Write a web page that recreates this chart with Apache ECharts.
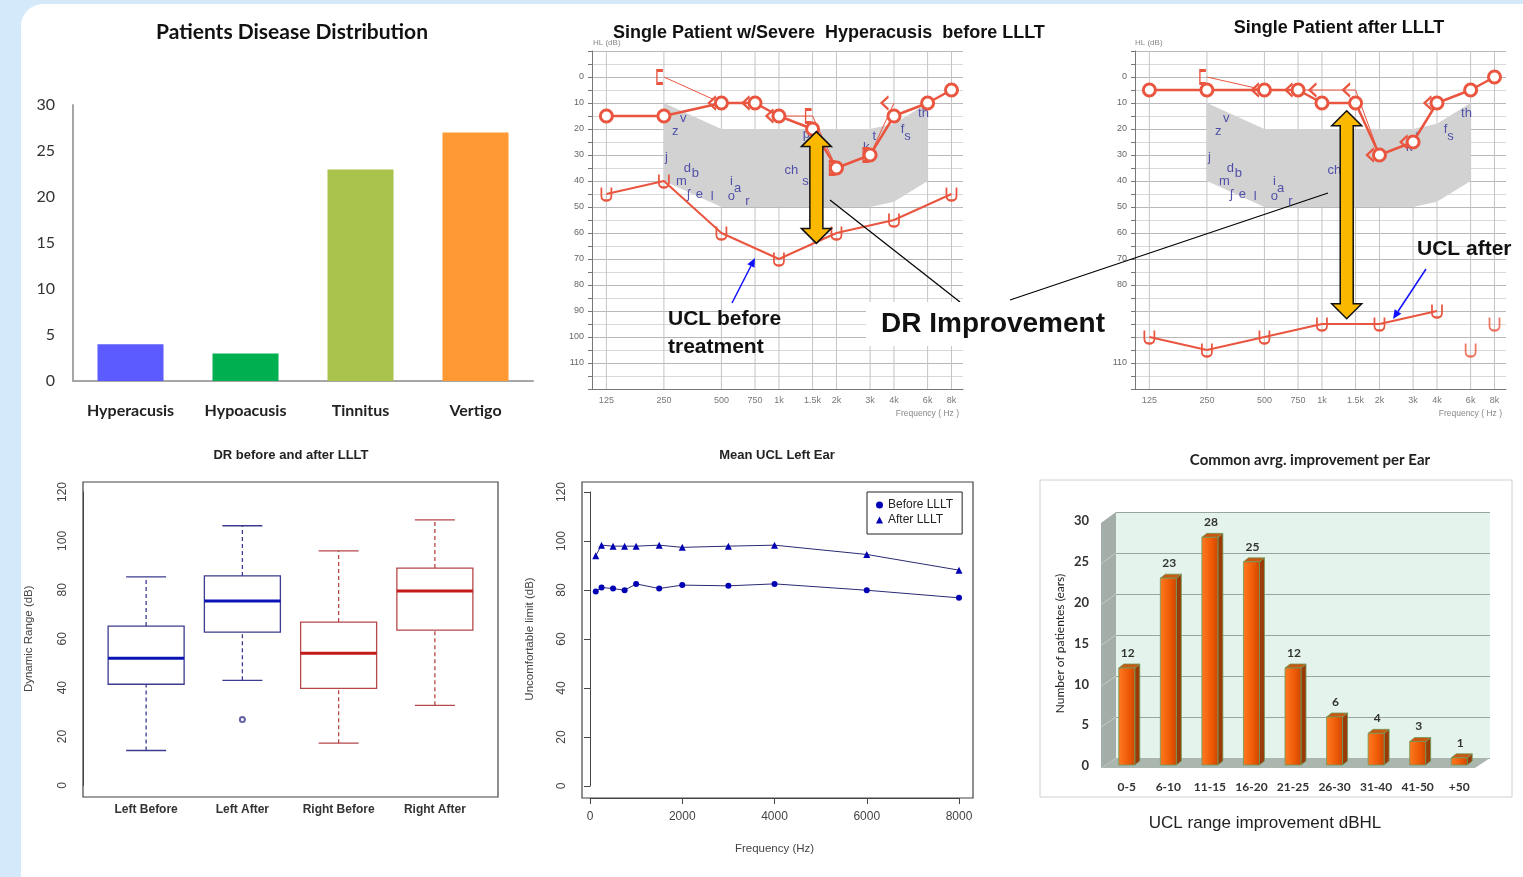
<!DOCTYPE html>
<html>
<head>
<meta charset="utf-8">
<script src="https://cdn.jsdelivr.net/npm/echarts@6.0.0/dist/echarts.min.js"></script>
<style>
  html,body{margin:0;padding:0;width:1523px;height:877px;overflow:hidden;background:#d4e9f9;}
  #panel{position:absolute;left:21px;top:4px;right:0;bottom:0;background:#fff;border-top-left-radius:22px;}
  #chart{position:absolute;left:0;top:0;width:1523px;height:877px;}
</style>
</head>
<body>
<div id="panel"></div>
<div id="chart"></div>
<script>
// ---------------- DATA ----------------
const diseaseCategories = ['Hyperacusis', 'Hypoacusis', 'Tinnitus', 'Vertigo'];
const diseaseCounts = [4, 3, 23, 27];
const diseaseColors = ['#5b5bff', '#00b050', '#a9c34c', '#ff9933'];

const audioFreqs = [125, 250, 500, 750, 1000, 1500, 2000, 3000, 4000, 6000, 8000];
const audioFreqLabels = ['125', '250', '500', '750', '1k', '1.5k', '2k', '3k', '4k', '6k', '8k'];

const beforeAir = [15, 15, 10, 10, 15, 20, 35, 30, 15, 10, 5];
const beforeBone = [[250, 0, '['], [500, 10, '<'], [750, 10, '<'], [1000, 15, '<'], [1500, 15, '['], [2000, 35, '['], [3000, 30, '['], [4000, 10, '<']];
const beforeUCL = [[125, 45], [250, 40], [500, 60], [1000, 70], [2000, 60], [4000, 55], [8000, 45]];

const afterAir = [5, 5, 5, 5, 10, 10, 30, 25, 10, 5, 0];
const afterBone = [[250, 0, '['], [500, 5, '<'], [750, 5, '<'], [1000, 5, '<'], [1500, 5, '<'], [2000, 30, '<'], [3000, 25, '<'], [4000, 10, '<']];
const afterUCL = [[125, 100], [250, 105], [500, 100], [1000, 95], [2000, 95], [4000, 90]];
const afterUCLSingle = [[6000, 105], [8000, 95]];

const speechBanana = [[250, 10], [500, 20], [3000, 20], [4000, 18], [6000, 10], [6000, 40], [4000, 48], [3000, 50], [500, 50], [250, 40]];
const speechSounds = [['v', 316, 16], ['z', 287, 21], ['j', 258, 31], ['d', 332, 35], ['b', 365, 37], ['m', 309, 40],
  ['ʃ', 336, 45], ['e', 383, 45], ['l', 448, 46], ['i', 564, 40], ['a', 607, 43], ['o', 564, 46], ['r', 684, 48],
  ['ch', 1163, 36], ['s', 1376, 40], ['p', 1393, 22], ['k', 2866, 27], ['t', 3160, 23], ['f', 4433, 20], ['s', 4710, 23], ['th', 5709, 14]];
const beforeArrow = [1570, 21, 64];
const afterArrow = [1348, 13, 93];

const boxCategories = ['Left Before', 'Left After', 'Right Before', 'Right After'];
const boxStats = [[14.3, 41.4, 52, 65.2, 85.3], [43, 62.7, 75.4, 85.7, 106.2], [17.3, 39.7, 54.1, 66.8, 95.9], [32.8, 63.5, 79.5, 88.9, 108.6]];
const boxOutliers = [[1, 27]];

const uclFreqs = [125, 250, 500, 750, 1000, 1500, 2000, 3000, 4000, 6000, 8000];
const uclBefore = [79.4, 81.0, 80.6, 79.9, 82.5, 80.6, 82.0, 81.7, 82.5, 79.9, 76.8];
const uclAfter = [94.0, 98.3, 97.9, 97.9, 97.9, 98.3, 97.4, 97.9, 98.3, 94.5, 88.1];

const improveCategories = ['0-5', '6-10', '11-15', '16-20', '21-25', '26-30', '31-40', '41-50', '+50'];
const improveCounts = [12, 23, 28, 25, 12, 6, 4, 3, 1];

// ---------------- HELPERS ----------------
const RED = '#e9553f';
const oct = f => Math.log2(f / 125);
const SYM_U = 'path://M0,0 L0,9 C0,15 10,15 10,9 L10,0';
const SYM_BR = 'path://M6,0 L0,0 L0,14 L6,14';
const SYM_LT = 'path://M7,0 L0,7 L7,14';
const RF = 'Liberation Sans';

function audioSeries(gi, air, bone, ucl, uclSingle, arrow) {
  const s = [];
  s.push({
    type: 'custom', xAxisIndex: gi, yAxisIndex: gi, silent: true, z: 1,
    data: audioFreqs.map((f, i) => [oct(f), 0, i]),
    renderItem(params, api) {
      const x = api.value(0);
      const p1 = api.coord([x, -10]), p2 = api.coord([x, 120]);
      return { type: 'group', children: [
        { type: 'line', shape: { x1: p1[0], y1: p1[1], x2: p2[0], y2: p2[1] }, style: { stroke: '#c4c4c4', lineWidth: 1 } },
        { type: 'text', style: { text: audioFreqLabels[api.value(2)], x: p2[0], y: p2[1] + 12, align: 'center', verticalAlign: 'middle', fill: '#777', fontSize: 9, fontFamily: RF } }
      ] };
    }
  });
  s.push({
    type: 'custom', xAxisIndex: gi, yAxisIndex: gi, silent: true, z: 1,
    data: [[0, 0]],
    renderItem(params, api) {
      return { type: 'polygon', shape: { points: speechBanana.map(p => api.coord([oct(p[0]), p[1]])) }, style: { fill: '#d2d2d2' } };
    }
  });
  s.push({
    type: 'custom', xAxisIndex: gi, yAxisIndex: gi, silent: true, z: 2,
    data: speechSounds.map((d, i) => [oct(d[1]), d[2], i]),
    renderItem(params, api) {
      const p = api.coord([api.value(0), api.value(1)]);
      return { type: 'text', style: { text: speechSounds[api.value(2)][0], x: p[0], y: p[1], align: 'center', verticalAlign: 'middle', fill: '#5050a8', fontSize: 13, fontFamily: RF } };
    }
  });
  s.push({
    type: 'line', xAxisIndex: gi, yAxisIndex: gi, z: 3,
    data: bone.map(b => ({ value: [oct(b[0]), b[1]], symbol: b[2] === '[' ? SYM_BR : SYM_LT, symbolSize: b[2] === '[' ? [6, 13] : [7, 13], symbolOffset: [b[2] === '[' ? -4 : -9, 0] })),
    lineStyle: { color: RED, width: 1 },
    itemStyle: { color: 'rgba(0,0,0,0)', borderColor: RED, borderWidth: 2 }
  });
  s.push({
    type: 'line', xAxisIndex: gi, yAxisIndex: gi, z: 4,
    data: audioFreqs.map((f, i) => [oct(f), air[i]]),
    symbol: 'circle', symbolSize: 12,
    lineStyle: { color: RED, width: 2.5 },
    itemStyle: { color: '#fff', borderColor: RED, borderWidth: 3 }
  });
  s.push({
    type: 'line', xAxisIndex: gi, yAxisIndex: gi, z: 4,
    data: ucl.map(u => [oct(u[0]), u[1]]),
    symbol: SYM_U, symbolSize: [10, 13],
    lineStyle: { color: RED, width: 2 },
    itemStyle: { color: 'rgba(0,0,0,0)', borderColor: RED, borderWidth: 2 }
  });
  if (uclSingle) {
    s.push({
      type: 'scatter', xAxisIndex: gi, yAxisIndex: gi, z: 4,
      data: uclSingle.map(u => [oct(u[0]), u[1]]),
      symbol: SYM_U, symbolSize: [10, 13],
      itemStyle: { color: 'rgba(0,0,0,0)', borderColor: RED, borderWidth: 2 }
    });
  }
  s.push({
    type: 'custom', xAxisIndex: gi, yAxisIndex: gi, silent: true, z: 6,
    data: [[oct(arrow[0]), arrow[1], arrow[2]]],
    renderItem(params, api) {
      const a = api.coord([api.value(0), api.value(1)]), b = api.coord([api.value(0), api.value(2)]);
      const cx = a[0], y1 = a[1], y2 = b[1], hw = 15, sw = 6.5, hl = 15;
      return { type: 'polygon', shape: { points: [[cx, y1], [cx + hw, y1 + hl], [cx + sw, y1 + hl], [cx + sw, y2 - hl], [cx + hw, y2 - hl], [cx, y2], [cx - hw, y2 - hl], [cx - sw, y2 - hl], [cx - sw, y1 + hl], [cx - hw, y1 + hl]] },
        style: { fill: '#fbb800', stroke: '#111', lineWidth: 1.5 } };
    }
  });
  return s;
}

function audioAxes(gi, skip) {
  return {
    x: { gridIndex: gi, type: 'value', min: -0.25, max: 6.2, axisLine: { show: true, onZero: false, lineStyle: { color: '#777' } }, axisTick: { show: false }, axisLabel: { show: false }, splitLine: { show: false } },
    y: { gridIndex: gi, type: 'value', inverse: true, min: -10, max: 120, interval: 10,
      axisLine: { show: true, onZero: false, lineStyle: { color: '#777' } },
      axisTick: { show: true, length: 4, lineStyle: { color: '#777' } },
      minorTick: { show: true, splitNumber: 2, length: 4, lineStyle: { color: '#777' } },
      splitLine: { show: true, lineStyle: { color: '#b8b8b8' } },
      minorSplitLine: { show: true, lineStyle: { color: '#d8d8d8' } },
      axisLabel: { formatter: v => (v >= 0 && v <= 110 && skip.indexOf(v) < 0) ? String(v) : '', fontSize: 9, color: '#666', margin: 8, fontFamily: RF } }
  };
}

function arrowGraphic(x1, y1, x2, y2, color) {
  const ang = Math.atan2(y2 - y1, x2 - x1), L = 9, W = 4;
  const bx = x2 - L * Math.cos(ang), by = y2 - L * Math.sin(ang);
  return [
    { type: 'line', z: 100, shape: { x1, y1, x2: bx, y2: by }, style: { stroke: color, lineWidth: 1.5 } },
    { type: 'polygon', z: 100, shape: { points: [[x2, y2], [bx + W * Math.sin(ang), by - W * Math.cos(ang)], [bx - W * Math.sin(ang), by + W * Math.cos(ang)]] }, style: { fill: color } }
  ];
}

const ax1 = audioAxes(1, []), ax2 = audioAxes(2, [90, 100]);

// ---------------- GRAPHICS ----------------
const gfx = [];
function txt(text, x, y, size, opt) {
  gfx.push({ type: 'text', z: 100, style: Object.assign({ text, x, y, fontSize: size, fontFamily: RF, fill: '#111', align: 'center', verticalAlign: 'middle' }, opt || {}) });
}
txt('Patients Disease Distribution', 292, 32, 21, { fontFamily: 'Lato', fontWeight: 'bold' });
txt('Single Patient w/Severe  Hyperacusis  before LLLT', 613, 33, 18, { fontWeight: 'bold', align: 'left' });
txt('Single Patient after LLLT', 1339, 28, 18, { fontWeight: 'bold' });
txt('HL (dB)', 593, 43, 8, { align: 'left', fill: '#888' });
txt('HL (dB)', 1135, 43, 8, { align: 'left', fill: '#888' });
txt('Frequency ( Hz )', 959, 414, 8.5, { align: 'right', fill: '#888' });
txt('Frequency ( Hz )', 1502, 414, 8.5, { align: 'right', fill: '#888' });
gfx.push({ type: 'line', z: 90, shape: { x1: 830, y1: 200, x2: 960, y2: 302 }, style: { stroke: '#000', lineWidth: 1.2 } });
gfx.push({ type: 'line', z: 90, shape: { x1: 1010, y1: 300, x2: 1328, y2: 193 }, style: { stroke: '#000', lineWidth: 1.2 } });
gfx.push({ type: 'rect', z: 95, shape: { x: 866, y: 302, width: 252, height: 44 }, style: { fill: '#fff' } });
txt('DR Improvement', 993, 324, 28, { fontWeight: 'bold' });
txt('UCL before', 668, 319, 21, { fontWeight: 'bold', align: 'left' });
txt('treatment', 668, 347, 21, { fontWeight: 'bold', align: 'left' });
txt('UCL after', 1417, 249, 21, { fontWeight: 'bold', align: 'left' });
gfx.push(...arrowGraphic(732, 303, 755, 258, '#1010ff'));
gfx.push(...arrowGraphic(1426, 269, 1393, 319, '#1010ff'));
txt('DR before and after LLLT', 291, 455, 13, { fontWeight: 'bold', fill: '#222' });
txt('Mean UCL Left Ear', 777, 455, 13, { fontWeight: 'bold', fill: '#222' });
txt('Common avrg. improvement per Ear', 1310, 460, 15, { fontFamily: 'Lato', fontWeight: 'bold', fill: '#222' });
txt('UCL range improvement dBHL', 1265, 823, 17, { fill: '#222' });
gfx.push({ type: 'rect', z: 50, shape: { x: 83, y: 482, width: 415, height: 315 }, style: { fill: 'none', stroke: '#444', lineWidth: 1.2 } });
gfx.push({ type: 'rect', z: 50, shape: { x: 582, y: 482, width: 391, height: 316 }, style: { fill: 'none', stroke: '#444', lineWidth: 1.2 } });
gfx.push({ type: 'rect', z: 0, shape: { x: 1040, y: 480, width: 472, height: 317 }, style: { fill: 'none', stroke: '#d0d0d0', lineWidth: 1 } });
gfx.push({ type: 'polygon', z: 1, shape: { points: [[1101, 523], [1116, 512], [1116, 758], [1101, 768]] }, style: { fill: '#a4aea8' } });
for (let v = 5; v <= 25; v += 5) {
  gfx.push({ type: 'line', z: 1, shape: { x1: 1101, y1: 768 - v * 8.167, x2: 1116, y2: 758 - v * 8.2 }, style: { stroke: '#c2cac4', lineWidth: 1 } });
}
gfx.push({ type: 'polygon', z: 1, shape: { points: [[1101, 768], [1116, 758], [1490, 758], [1475, 768]] }, style: { fill: '#abb6af' } });

// ---------------- OPTION ----------------
const option = {
  animation: false,
  backgroundColor: 'transparent',
  grid: [
    { left: 73, top: 105, width: 460, height: 276 },
    { left: 592, top: 51, width: 371, height: 338 },
    { left: 1135, top: 51, width: 371, height: 338 },
    { left: 98, top: 492, width: 385, height: 293.5 },
    { left: 590, top: 492, width: 369, height: 294 },
    { left: 1116, top: 512, width: 374, height: 246, show: true, backgroundColor: '#e4f4ec', borderWidth: 0, z: 0 },
    { left: 1106, top: 521, width: 374, height: 245 }
  ],
  legend: {
    left: 867, top: 492, orient: 'vertical', padding: [7, 9, 8, 9], itemGap: 3, itemWidth: 7, itemHeight: 7,
    borderColor: '#222', borderWidth: 1,
    textStyle: { fontSize: 12, fontFamily: RF, color: '#222' },
    data: [{ name: 'Before LLLT', icon: 'circle' }, { name: 'After LLLT', icon: 'triangle' }]
  },
  xAxis: [
    { gridIndex: 0, type: 'category', data: diseaseCategories, axisLine: { lineStyle: { color: '#a6a6a6', width: 2 } }, axisTick: { show: false },
      axisLabel: { fontFamily: 'Lato', fontWeight: 'bold', fontSize: 16, color: '#222', margin: 22 } },
    ax1.x, ax2.x,
    { gridIndex: 3, type: 'category', data: boxCategories, offset: 11.5, axisLine: { show: false }, axisTick: { show: false },
      axisLabel: { fontFamily: RF, fontWeight: 'bold', fontSize: 12, color: '#333', margin: 7 } },
    { gridIndex: 4, type: 'value', min: 0, max: 8000, interval: 2000, offset: 12,
      axisLine: { show: true, onZero: false, lineStyle: { color: '#444' } }, axisTick: { length: 6, lineStyle: { color: '#444' } }, splitLine: { show: false },
      axisLabel: { fontFamily: RF, fontSize: 12, color: '#444', margin: 13, formatter: v => String(v) },
      name: 'Frequency (Hz)', nameLocation: 'middle', nameGap: 45, nameTextStyle: { fontFamily: RF, fontSize: 11.5, color: '#444' } },
    { gridIndex: 5, type: 'value', min: 0, max: 1, show: false },
    { gridIndex: 6, type: 'category', data: improveCategories, axisLine: { show: false }, axisTick: { show: false },
      axisLabel: { interval: 0, fontFamily: 'Lato', fontWeight: 'bold', fontSize: 12, color: '#333', margin: 15 } }
  ],
  yAxis: [
    { gridIndex: 0, type: 'value', min: 0, max: 30, interval: 5, axisLine: { show: true, lineStyle: { color: '#a6a6a6', width: 2 } }, axisTick: { show: false }, splitLine: { show: false },
      axisLabel: { fontFamily: 'Lato', fontSize: 16, color: '#333', margin: 18 } },
    ax1.y, ax2.y,
    { gridIndex: 3, type: 'value', min: 0, max: 120, interval: 20, offset: 15,
      axisLine: { show: true, lineStyle: { color: '#444' } }, axisTick: { length: 6, lineStyle: { color: '#444' } }, splitLine: { show: false },
      axisLabel: { rotate: 90, fontFamily: RF, fontSize: 12, color: '#444', margin: 14 },
      name: 'Dynamic Range (dB)', nameLocation: 'middle', nameGap: 48, nameTextStyle: { fontFamily: RF, fontSize: 11.5, color: '#444' } },
    { gridIndex: 4, type: 'value', min: 0, max: 120, interval: 20, offset: 8,
      axisLine: { show: true, lineStyle: { color: '#444' } }, axisTick: { length: 6, lineStyle: { color: '#444' } }, splitLine: { show: false },
      axisLabel: { rotate: 90, fontFamily: RF, fontSize: 12, color: '#444', margin: 14 },
      name: 'Uncomfortable limit (dB)', nameLocation: 'middle', nameGap: 46, nameTextStyle: { fontFamily: RF, fontSize: 11.5, color: '#444' } },
    { gridIndex: 5, type: 'value', min: 0, max: 30, interval: 5, axisLine: { show: false }, axisTick: { show: false }, axisLabel: { show: false },
      splitLine: { show: true, lineStyle: { color: '#9aa59f', width: 1 } } },
    { gridIndex: 6, type: 'value', min: 0, max: 30, interval: 5, axisLine: { show: false }, axisTick: { show: false }, splitLine: { show: false },
      axisLabel: { fontFamily: 'Lato', fontWeight: 'bold', fontSize: 13, color: '#333', margin: 17 },
      name: 'Number of patientes (ears)', nameLocation: 'middle', nameGap: 40, nameTextStyle: { fontFamily: 'Lato', fontSize: 12, color: '#222' } }
  ],
  graphic: { elements: gfx },
  series: [
    { type: 'bar', xAxisIndex: 0, yAxisIndex: 0, barWidth: 66,
      data: diseaseCounts.map((v, i) => ({ value: v, itemStyle: { color: diseaseColors[i] } })) },
    ...audioSeries(1, beforeAir, beforeBone, beforeUCL, null, beforeArrow),
    ...audioSeries(2, afterAir, afterBone, afterUCL, afterUCLSingle, afterArrow),
    { type: 'custom', xAxisIndex: 3, yAxisIndex: 3, z: 5,
      data: boxStats.map((s, i) => [i].concat(s)),
      renderItem(params, api) {
        const i = api.value(0);
        const stroke = i < 2 ? '#3b3b8f' : '#b5474a';
        const med = i < 2 ? '#0a14b4' : '#c41a1a';
        const y = v => api.coord([i, v])[1];
        const cx = api.coord([i, 0])[0];
        const bw = 38, cw = 20;
        const lo = y(api.value(1)), q1 = y(api.value(2)), md = y(api.value(3)), q3 = y(api.value(4)), hi = y(api.value(5));
        const ls = { stroke, lineWidth: 1.3 };
        return { type: 'group', children: [
          { type: 'line', shape: { x1: cx, y1: lo, x2: cx, y2: q1 }, style: Object.assign({ lineDash: [4, 3] }, ls) },
          { type: 'line', shape: { x1: cx, y1: q3, x2: cx, y2: hi }, style: Object.assign({ lineDash: [4, 3] }, ls) },
          { type: 'line', shape: { x1: cx - cw, y1: lo, x2: cx + cw, y2: lo }, style: ls },
          { type: 'line', shape: { x1: cx - cw, y1: hi, x2: cx + cw, y2: hi }, style: ls },
          { type: 'rect', shape: { x: cx - bw, y: q3, width: 2 * bw, height: q1 - q3 }, style: { fill: '#fff', stroke, lineWidth: 1.3 } },
          { type: 'line', shape: { x1: cx - bw, y1: md, x2: cx + bw, y2: md }, style: { stroke: med, lineWidth: 3 } }
        ] };
      } },
    { type: 'scatter', xAxisIndex: 3, yAxisIndex: 3, z: 6, data: boxOutliers, symbol: 'emptyCircle', symbolSize: 5,
      itemStyle: { color: '#3b3b8f', borderWidth: 1 } },
    { type: 'line', name: 'Before LLLT', xAxisIndex: 4, yAxisIndex: 4, data: uclFreqs.map((f, i) => [f, uclBefore[i]]),
      symbol: 'circle', symbolSize: 6, lineStyle: { color: '#2a2a72', width: 1 }, itemStyle: { color: '#0000b4' } },
    { type: 'line', name: 'After LLLT', xAxisIndex: 4, yAxisIndex: 4, data: uclFreqs.map((f, i) => [f, uclAfter[i]]),
      symbol: 'triangle', symbolSize: 7, lineStyle: { color: '#2a2a72', width: 1 }, itemStyle: { color: '#0000b4' } },
    { type: 'custom', xAxisIndex: 6, yAxisIndex: 6, z: 5,
      data: improveCounts.map((v, i) => [i, v]),
      renderItem(params, api) {
        const i = api.value(0), v = api.value(1);
        const base = api.coord([i, 0]), top = api.coord([i, v]);
        const w = 16, dx = 5, dy = -4;
        const x0 = base[0] - w / 2, x1 = base[0] + w / 2, yb = base[1] - 1, yt = top[1];
        const st = { stroke: '#6d9a5a', lineWidth: 0.8 };
        return { type: 'group', children: [
          { type: 'polygon', shape: { points: [[x1, yt], [x1 + dx, yt + dy], [x1 + dx, yb + dy], [x1, yb]] }, style: Object.assign({ fill: '#9a3a06' }, st) },
          { type: 'polygon', shape: { points: [[x0, yt], [x0 + dx, yt + dy], [x1 + dx, yt + dy], [x1, yt]] }, style: Object.assign({ fill: '#c85812' }, st) },
          { type: 'rect', shape: { x: x0, y: yt, width: w, height: yb - yt }, style: Object.assign({ fill: new echarts.graphic.LinearGradient(0, 0, 1, 0, [{ offset: 0, color: '#ff7a22' }, { offset: 0.6, color: '#ee5a06' }, { offset: 1, color: '#cc4600' }]) }, st) },
          { type: 'text', style: { text: String(v), x: base[0] + 1, y: yt - 15, align: 'center', verticalAlign: 'middle', fontFamily: 'Lato', fontWeight: 'bold', fontSize: 12, fill: '#333' } }
        ] };
      } }
  ]
};

const chart = echarts.init(document.getElementById('chart'), null, { renderer: 'canvas' });
chart.setOption(option);
</script>
</body>
</html>
